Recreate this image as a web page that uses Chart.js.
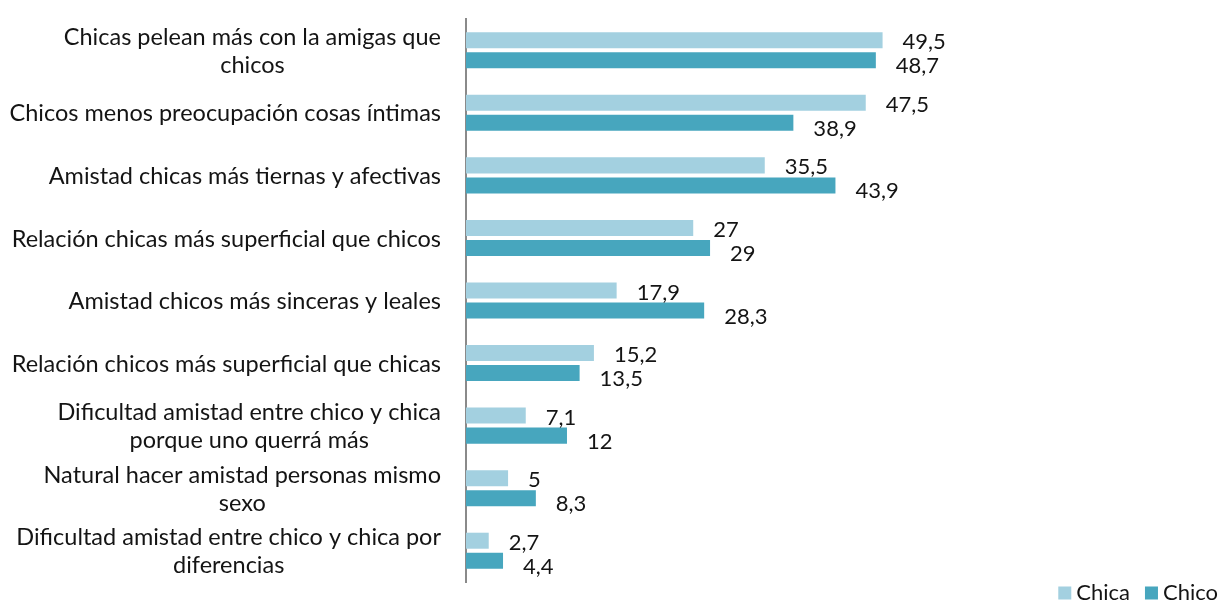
<!DOCTYPE html>
<html>
<head>
<meta charset="utf-8">
<script src="https://cdn.jsdelivr.net/npm/chart.js@4.4.1/dist/chart.umd.min.js"></script>
<style>
  html, body { margin: 0; padding: 0; background: #fff; }
  #wrap { width: 1221px; height: 603px; position: relative; }
</style>
</head>
<body>
<div id="wrap"><canvas id="chart"></canvas></div>
<script>
// Category labels (multi-line where the original wraps)
const categories = [
  ['Chicas pelean más con la amigas que', 'chicos'],
  'Chicos menos preocupación cosas íntimas',
  'Amistad chicas más tiernas y afectivas',
  'Relación chicas más superficial que chicos',
  'Amistad chicos más sinceras y leales',
  'Relación chicos más superficial que chicas',
  ['Dificultad amistad entre chico y chica', 'porque uno querrá más'],
  ['Natural hacer amistad personas mismo', 'sexo'],
  ['Dificultad amistad entre chico y chica por', 'diferencias'],
];
const chicaValues = [49.5, 47.5, 35.5, 27, 17.9, 15.2, 7.1, 5, 2.7];
const chicoValues = [48.7, 38.9, 43.9, 29, 28.3, 13.5, 12, 8.3, 4.4];

const FONT = 'Lato, "Open Sans", sans-serif';
const TEXT = '#141414';
const fmt = v => String(v).replace('.', ',');

// category labels: block right-aligned to the axis, wrapped lines centred in the block
const categoryLabels = {
  id: 'categoryLabels',
  afterDraw(chart) {
    const ctx = chart.ctx;
    const y = chart.scales.y;
    ctx.save();
    ctx.font = `23.5px ${FONT}`;
    ctx.fillStyle = TEXT;
    ctx.textAlign = 'center';
    ctx.textBaseline = 'middle';
    const right = chart.chartArea.left - 25;
    const lineH = 28;
    chart.data.labels.forEach((lab, i) => {
      const lines = Array.isArray(lab) ? lab : [lab];
      const w = Math.max(...lines.map(l => ctx.measureText(l).width));
      const cx = right - w / 2;
      const cy = y.getPixelForTick(i) + 1;
      lines.forEach((l, k) => {
        ctx.fillText(l, cx, cy + (k - (lines.length - 1) / 2) * lineH);
      });
    });
    ctx.restore();
  },
};

const valueLabels = {
  id: 'valueLabels',
  afterDatasetsDraw(chart) {
    const ctx = chart.ctx;
    ctx.save();
    ctx.font = `22px ${FONT}`;
    ctx.fillStyle = TEXT;
    ctx.textAlign = 'left';
    ctx.textBaseline = 'middle';
    chart.data.datasets.forEach((ds, di) => {
      const meta = chart.getDatasetMeta(di);
      meta.data.forEach((bar, i) => {
        const dy = di === 0 ? 2 : 6;
        ctx.fillText(fmt(ds.data[i]), bar.x + 20, bar.y + dy);
      });
    });
    ctx.restore();
  },
};

// legend in the bottom-right corner
const cornerLegend = {
  id: 'cornerLegend',
  afterDraw(chart) {
    const ctx = chart.ctx;
    ctx.save();
    ctx.font = `22px ${FONT}`;
    ctx.textBaseline = 'middle';
    ctx.textAlign = 'left';
    const cy = 593;
    const box = 13;
    let x = chart.width - 3;
    const items = chart.data.datasets.slice().reverse();
    items.forEach(ds => {
      const tw = ctx.measureText(ds.label).width;
      x -= tw;
      ctx.fillStyle = TEXT;
      ctx.fillText(ds.label, x, cy);
      x -= 5 + box;
      ctx.fillStyle = ds.backgroundColor;
      ctx.fillRect(x, cy - box / 2, box, box);
      x -= 15;
    });
    ctx.restore();
  },
};

new Chart(document.getElementById('chart'), {
  type: 'bar',
  data: {
    labels: categories,
    datasets: [
      {
        label: 'Chica',
        data: chicaValues,
        backgroundColor: '#a3d0e0',
        categoryPercentage: 0.64,
        barPercentage: 0.8,
      },
      {
        label: 'Chico',
        data: chicoValues,
        backgroundColor: '#47a6be',
        categoryPercentage: 0.64,
        barPercentage: 0.8,
      },
    ],
  },
  options: {
    indexAxis: 'y',
    responsive: true,
    maintainAspectRatio: false,
    animation: false,
    layout: { padding: { top: 19, left: 0, right: 6, bottom: 21 } },
    scales: {
      x: {
        display: false,
        min: 0,
        max: 89,
      },
      y: {
        grid: { display: false, drawTicks: false },
        border: { display: true, color: '#8a8a8a', width: 2 },
        ticks: { display: false },
        afterFit(scale) {
          scale.width = 466;
          scale.paddingTop = 0;
          scale.paddingBottom = 0;
        },
      },
    },
    plugins: {
      legend: { display: false },
      tooltip: { enabled: false },
    },
  },
  plugins: [valueLabels, categoryLabels, cornerLegend],
});
</script>
</body>
</html>
